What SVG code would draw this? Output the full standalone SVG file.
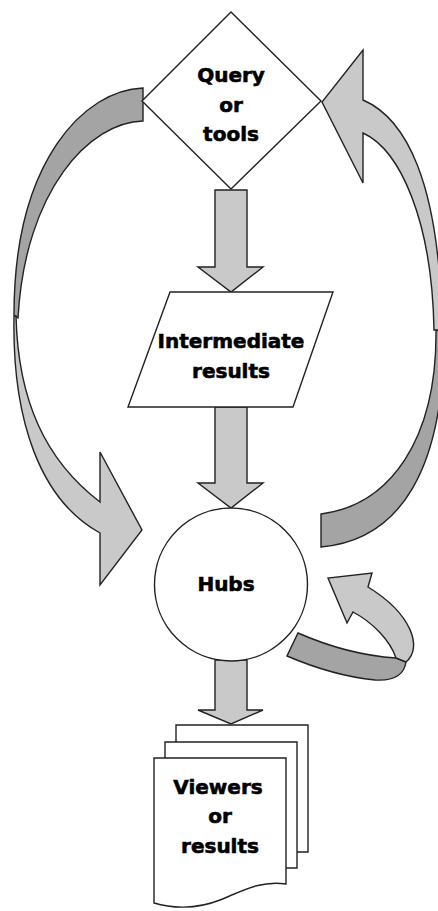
<svg xmlns="http://www.w3.org/2000/svg" width="438" height="911" viewBox="0 0 438 911">
<style>
.shape{fill:#fff;stroke:#222;stroke-width:1.4;stroke-linejoin:miter}
.arr{fill:#c9c9c9;stroke:#222;stroke-width:1.4;stroke-linejoin:miter}
.dark{fill:#a4a4a4;stroke:#222;stroke-width:1.4;stroke-linejoin:miter}
.lbl{font-family:"DejaVu Sans","Liberation Sans",sans-serif;font-weight:bold;font-size:20px;text-anchor:middle;fill:#000;stroke:#000;stroke-width:0.6}
</style>
<rect width="438" height="911" fill="#fff"/>
<g id="connectors">
  <!-- straight arrows -->
  <path class="arr" d="M215,190 L247,190 L247,267 L263,267 L231,292 L198,267 L215,267 Z"/>
  <path class="arr" d="M215,407 L247,407 L247,483 L263,483 L231,508 L198,483 L215,483 Z"/>
  <path class="arr" d="M215,660 L247,660 L247,710 L263,710 L231,724 L198,710 L215,710 Z"/>
  <!-- left curved arrow: query -> hubs -->
  <path class="dark" d="M143,88 C85,90 14,160 14,315 L18,318 C25,190 90,122 143,121 Z"/>
  <path class="arr" d="M16,316 C18,400 45,460 100,502 L100,452 L142,530 L100,585 L100,533 C40,500 12,420 14,316 Z"/>
  <!-- right curved arrow: hubs -> query -->
  <path class="dark" d="M436,330 C437,440 390,505 321,514 L321,547 C400,540 445,470 444,330 Z"/>
  <path class="arr" d="M363,100 C405,118 440,180 442,330 L434,330 C432,220 400,150 363,133 L363,183 L322,102 L363,50 Z"/>
  <!-- self loop on hubs -->
  <path class="dark" d="M298,633 C330,647 365,656 396,658 L406,662 C404,676 392,681 375,680 C345,677 315,668 287,656 Z"/>
  <path class="arr" d="M406,662 C423,648 412,614 368,587 L372,573 L328,578 L347,623 L353,612 C372,622 390,640 396,658 Z"/>
</g>
<g id="query">
  <polygon class="shape" points="231,12 321,101 231,189 142,101"/>
  <text class="lbl" x="231" y="82">Query</text>
  <text class="lbl" x="231" y="112">or</text>
  <text class="lbl" x="231" y="141">tools</text>
</g>
<g id="intermediate">
  <polygon class="shape" points="170,292 333,292 293,407 128,407"/>
  <text class="lbl" x="231" y="348">Intermediate</text>
  <text class="lbl" x="231" y="378">results</text>
</g>
<g id="hubs">
  <circle class="shape" cx="231" cy="584.5" r="76.5"/>
  <text class="lbl" x="226" y="591">Hubs</text>
</g>
<g id="viewers">
  <path class="shape" d="M176,725 L308,725 L308,852 L176,852 Z"/>
  <path class="shape" d="M165,742 L297,742 L297,868 L165,868 Z"/>
  <path class="shape" d="M154,758 L286,758 L286,884 C260,880 240,892 220,900 C195,910 170,908 154,903 Z"/>
  <text class="lbl" x="218" y="794">Viewers</text>
  <text class="lbl" x="220" y="823">or</text>
  <text class="lbl" x="220" y="853">results</text>
</g>
</svg>
